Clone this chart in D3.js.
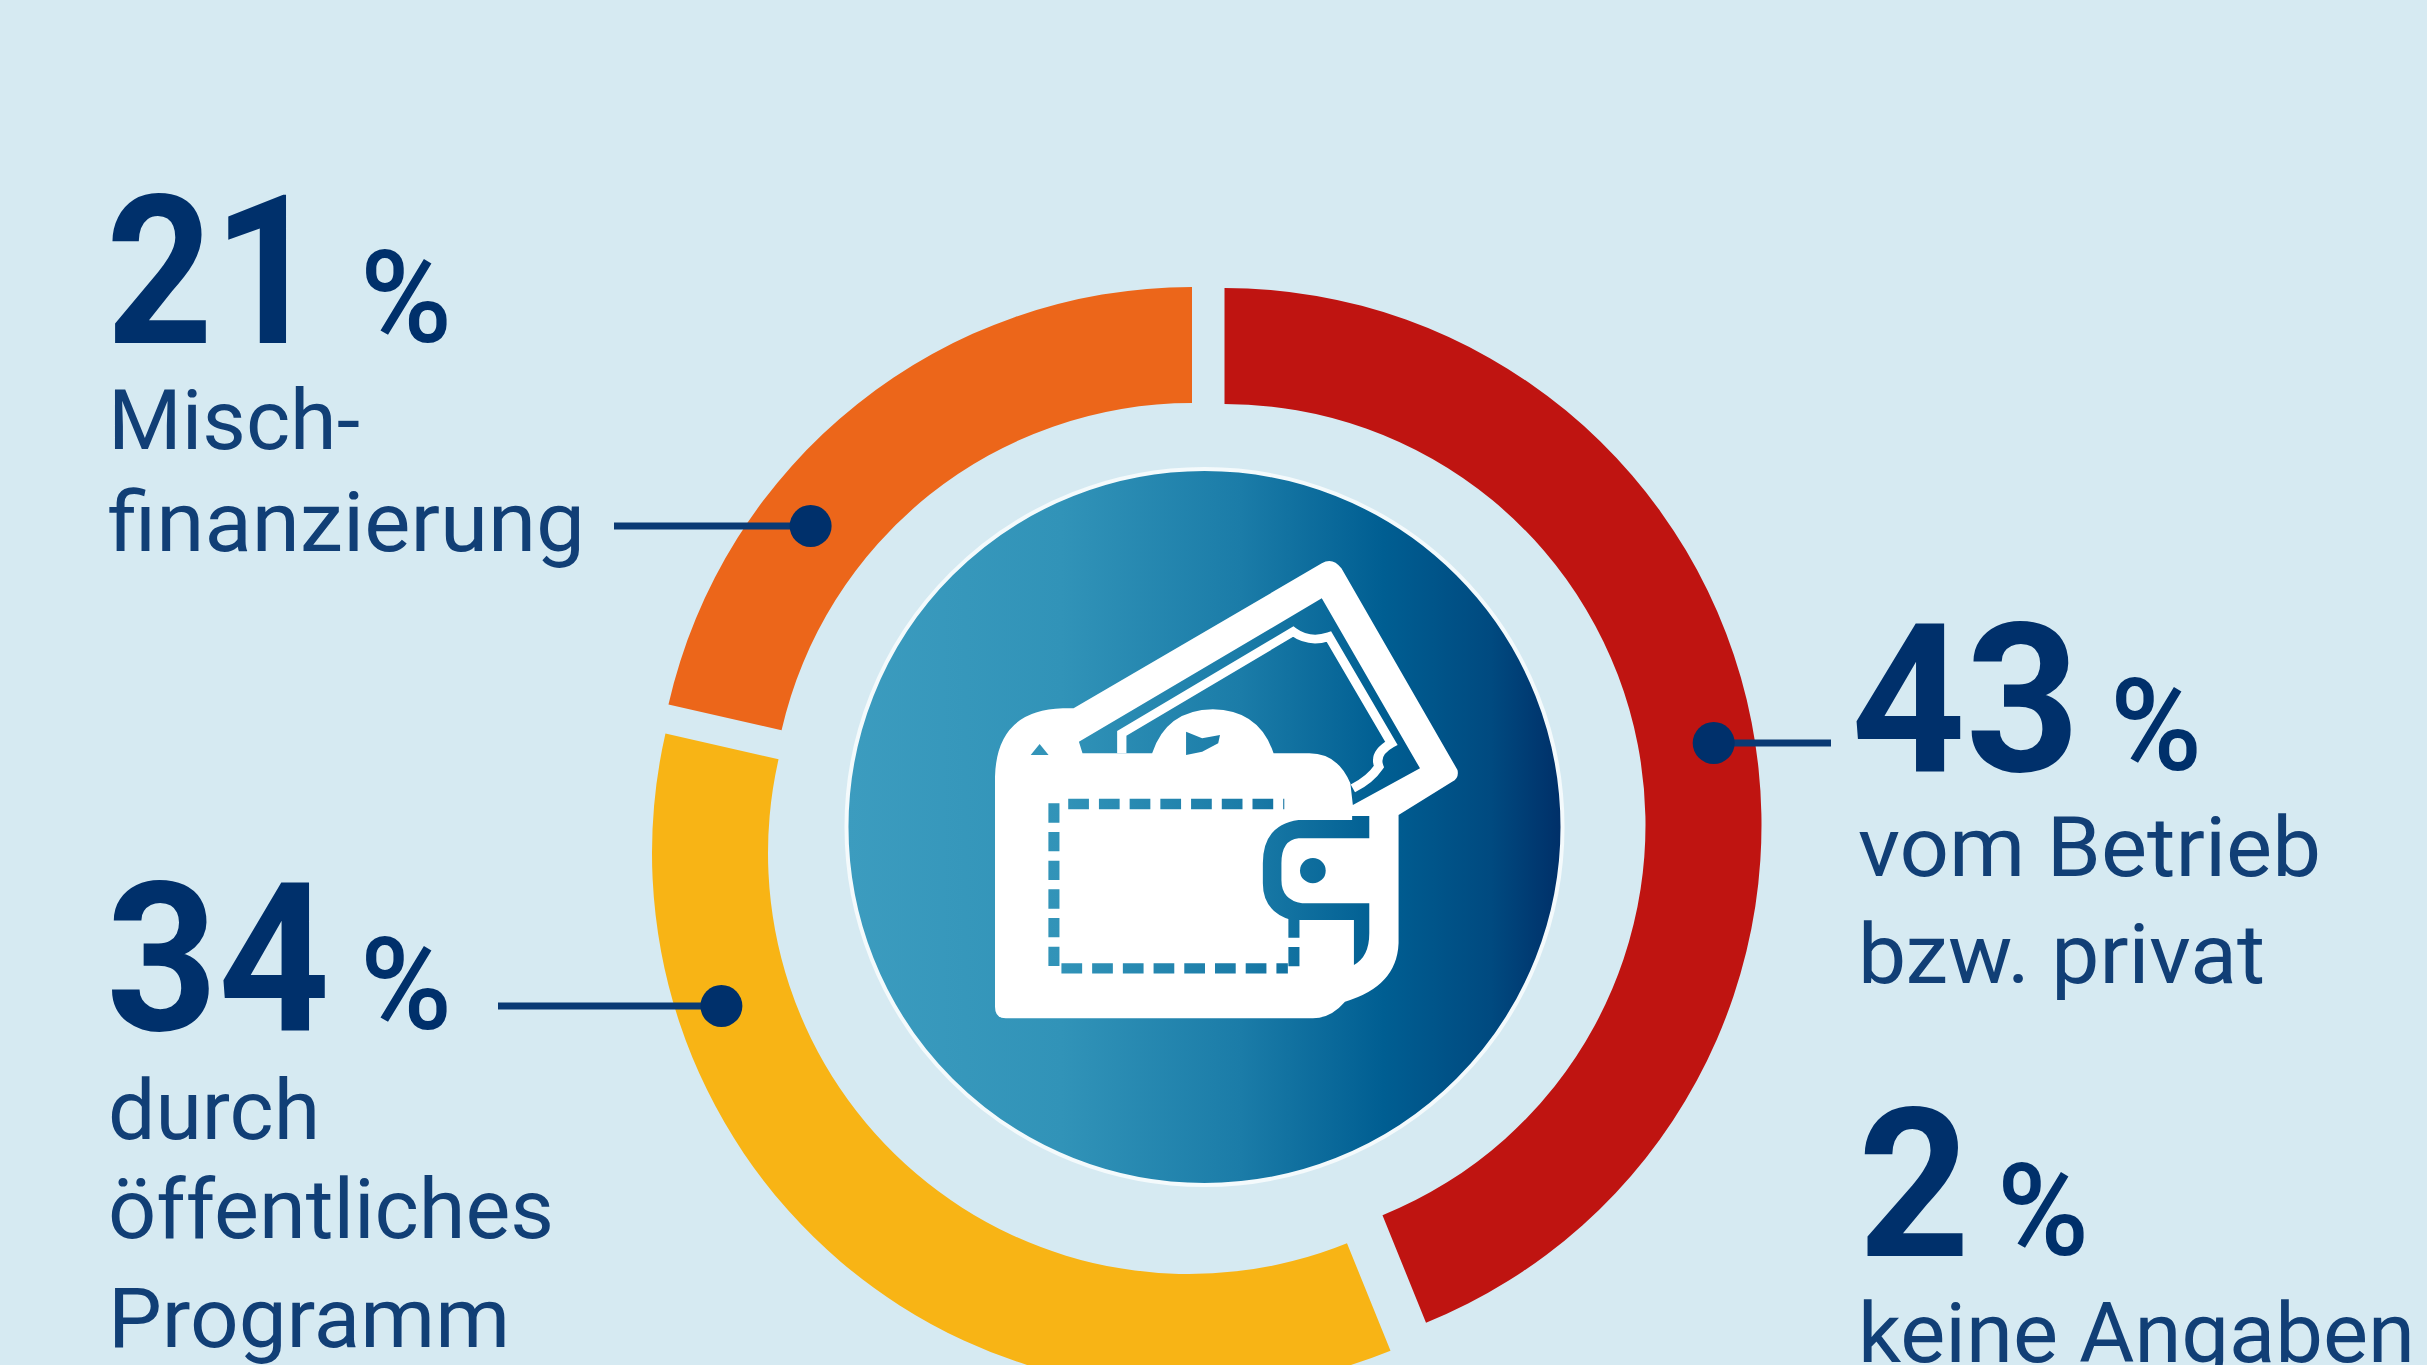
<!DOCTYPE html>
<html lang="de">
<head>
<meta charset="utf-8">
<title>Finanzierung</title>
<script src="https://cdn.jsdelivr.net/npm/d3@7/dist/d3.min.js"></script>
<style>
  html, body { margin: 0; padding: 0; background: #D6EAF2; overflow: hidden; }
  svg { display: block; }
  text { font-family: Roboto, "Open Sans", sans-serif; fill: #00306B; }
</style>
</head>
<body>
<svg id="chart" width="2427" height="1365"></svg>
<script>
// Shares in percent; "keine Angaben" has a label but no ring segment.
const categories = ["vom Betrieb bzw. privat", "keine Angaben", "durch öffentliches Programm", "Mischfinanzierung"];
const shares = [43, 2, 34, 21];
const ringCategories = ["vom Betrieb bzw. privat", "durch öffentliches Programm", "Mischfinanzierung"];
const ringShares = [43, 34, 21];
const ringColours = ["#BF1411", "#F8B415", "#EC661A"];
const labelLines = [["vom Betrieb", "bzw. privat"], ["keine Angaben"], ["durch", "öffentliches", "Programm"], ["Misch-", "finanzierung"]];

// Layout of the text blocks and the ring segments.
const W = 2427, H = 1365, NAVY = "#00306B";
const hub = { x: 1204.5, y: 827, r: 358 };
const ringOuter = 537, ringInner = 421;
const segmentCentres = [[1224.5, 825], [1189, 853], [1192, 824]];
const blocks = [
  { x: 1851, base: 771, numW: 229, pctX: 2110, lines: [[876, 463], [983, 407]], lineX: 1858 },
  { x: 1858, base: 1256, numW: 112, pctX: 1997, lines: [[1362, 557]], lineX: 1858 },
  { x: 106, base: 1030, numW: 224, pctX: 360, lines: [[1139, 212], [1238, 446], [1347, 402]], lineX: 108 },
  { x: 106, base: 343, numW: 214, pctX: 360, lines: [[449, 252], [551, 477]], lineX: 108 }
];
// Leader lines: ring index, height, free end, distance of the dot from the segment centre.
const leaders = [
  { ring: 0, y: 743, end: 1831, dist: 496, side: 1 },
  { ring: 1, y: 1006, end: 498, dist: 492, side: -1 },
  { ring: 2, y: 526, end: 614, dist: 484, side: -1 }
];

const svg = d3.select("#chart");
const defs = svg.append("defs");

const grad = defs.append("linearGradient").attr("id", "hubFill")
  .attr("x1", "0%").attr("x2", "100%").attr("y1", "0%").attr("y2", "0%");
[[0, "#3C9CBF"], [0.3, "#3193B8"], [0.55, "#1B7CA8"], [0.75, "#005E92"], [0.9, "#004A80"], [1, "#002F68"]]
  .forEach(([o, c]) => grad.append("stop").attr("offset", o).attr("stop-color", c));

svg.append("rect").attr("width", W).attr("height", H).attr("fill", "#D6EAF2");

// Ring: each segment sits on its own slightly shifted centre.
const pie = d3.pie().sort(null).startAngle(0).endAngle(2 * Math.PI);
const arc = d3.arc().innerRadius(ringInner).outerRadius(ringOuter);
svg.append("g").selectAll("path").data(pie(ringShares)).join("path")
  .attr("transform", (d, i) => `translate(${segmentCentres[i]})`)
  .attr("d", arc)
  .attr("fill", (d, i) => ringColours[i])
  .append("title").text((d, i) => `${ringCategories[i]}: ${d.data} %`);

// Centre disc with a thin white rim.
svg.append("circle").attr("cx", hub.x).attr("cy", hub.y).attr("r", hub.r)
  .attr("fill", "url(#hubFill)").attr("stroke", "#F4FAFC").attr("stroke-width", 4);

// Wallet icon, cut out of a white layer by a mask so the disc shows through.
const mask = defs.append("mask").attr("id", "walletMask").attr("maskUnits", "userSpaceOnUse")
  .attr("x", 0).attr("y", 0).attr("width", W).attr("height", H);
const icon = mask.append("g").attr("transform", "translate(920,520) scale(0.35714,0.33333)");
icon.append("path").attr("fill", "#fff")
  .attr("d", "M210 770Q215 570 400 565L430 565L1125 130Q1155 110 1180 145L1505 750Q1510 775 1490 785L1340 885L1340 1270Q1335 1400 1190 1445Q1150 1495 1100 1495L240 1495Q210 1495 210 1460Z");
icon.append("path").attr("fill", "#000")
  .attr("d", "M445 665L1125 235L1400 745L1212 855L1205 790Q1170 700 1090 700L990 700Q950 570 820 568Q690 570 650 700L455 700Z");
icon.append("path").attr("fill", "none").attr("stroke", "#fff").attr("stroke-width", 26)
  .attr("d", "M565 700L565 640L1045 335Q1090 370 1145 350L1320 670Q1270 700 1285 740Q1260 780 1212 805");
icon.append("path").attr("fill", "#fff")
  .attr("d", "M740 700L740 640L790 655L840 640L840 670L790 700Z");
icon.append("path").attr("fill", "#000").attr("d", "M745 635L790 655L840 645L835 670L790 695L745 705Z");
icon.append("path").attr("fill", "#000").attr("d", "M310 705L335 672L360 705Z");
icon.append("path").attr("fill", "#000")
  .attr("d", "M1258 888L1210 888L1210 900L1060 900Q960 915 960 1030L960 1090Q960 1175 1040 1200L1215 1200L1215 1335Q1258 1310 1258 1240L1258 1150L1070 1150Q1012 1140 1012 1080L1012 1030Q1012 960 1060 955L1258 955Z");
icon.append("ellipse").attr("cx", 1100).attr("cy", 1052).attr("rx", 36).attr("ry", 38).attr("fill", "#000");
icon.append("path").attr("fill", "none").attr("stroke", "#000").attr("stroke-width", 31)
  .attr("stroke-dasharray", "58 28").attr("stroke-linecap", "butt")
  .attr("d", "M415 852L1020 852M375 850L375 1345L1030 1345M1047 1195L1047 1345");
svg.append("rect").attr("width", W).attr("height", H).attr("fill", "#fff").attr("mask", "url(#walletMask)");

// Percentage blocks.
const textLayer = svg.append("g");
blocks.forEach((b, i) => {
  textLayer.append("text").attr("x", b.x).attr("y", b.base)
    .attr("font-size", 208).attr("font-weight", 700)
    .attr("textLength", b.numW).attr("lengthAdjust", "spacingAndGlyphs").text(shares[i]);
  textLayer.append("text").attr("x", b.pctX).attr("y", b.base - 1)
    .attr("font-size", 128).attr("font-weight", 500)
    .attr("textLength", 92).attr("lengthAdjust", "spacingAndGlyphs").text("%");
  labelLines[i].forEach((line, j) => {
    textLayer.append("text").attr("x", b.lineX).attr("y", b.lines[j][0])
      .attr("font-size", 84).attr("font-weight", 400).attr("fill-opacity", 0.92)
      .attr("textLength", b.lines[j][1]).attr("lengthAdjust", "spacingAndGlyphs").text(line);
  });
});

// Leader lines ending in a dot on the ring.
const leaderLayer = svg.append("g");
leaders.forEach(l => {
  const [cx, cy] = segmentCentres[l.ring];
  const dotX = cx + l.side * Math.sqrt(l.dist * l.dist - (l.y - cy) * (l.y - cy));
  leaderLayer.append("line").attr("x1", dotX).attr("x2", l.end).attr("y1", l.y).attr("y2", l.y)
    .attr("stroke", "#0A3A74").attr("stroke-width", 7);
  leaderLayer.append("circle").attr("cx", dotX).attr("cy", l.y).attr("r", 21).attr("fill", NAVY);
});
</script>
</body>
</html>
